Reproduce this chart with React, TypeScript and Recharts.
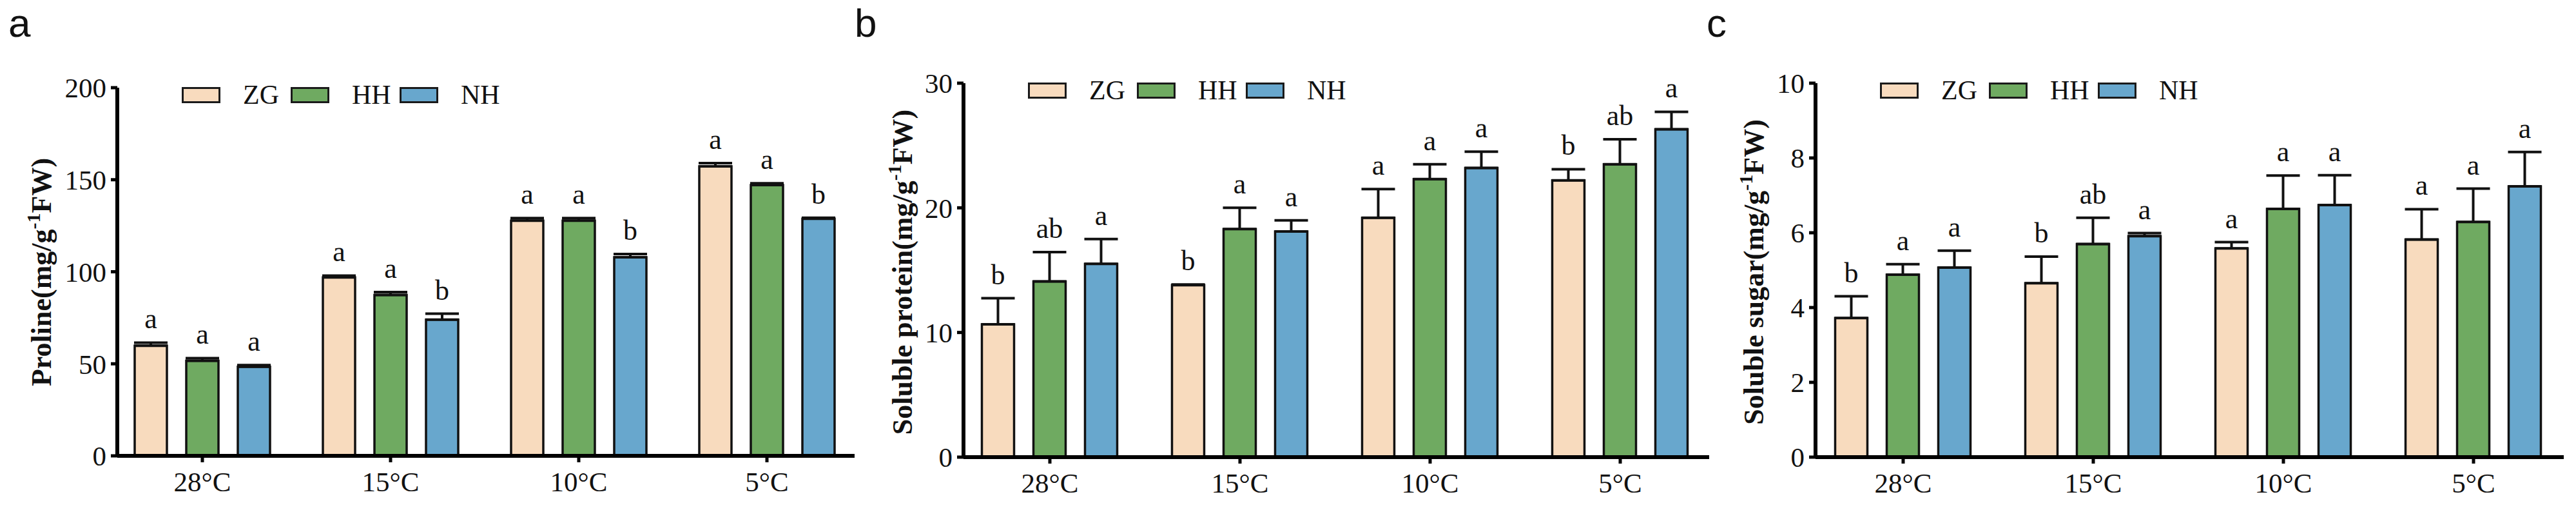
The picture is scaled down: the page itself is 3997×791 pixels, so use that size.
import React from 'react';
import { BarChart, Bar, XAxis, YAxis, ErrorBar, LabelList, Legend } from 'recharts';

const SERIF = "'Liberation Serif', 'Times New Roman', serif";
const SANS = "'Liberation Sans', Arial, sans-serif";

const categories = ['28°C', '15°C', '10°C', '5°C'];
const seriesNames = ['ZG', 'HH', 'NH'];
const seriesColors = ['#F8DBBE', '#6FAA61', '#68A7CD'];

// a: proline
const prolineZG = [59.8, 96.9, 127.8, 157.3];
const prolineZGErr = [1.7, 1.0, 1.4, 1.7];
const prolineZGSig = ['a', 'a', 'a', 'a'];
const prolineHH = [51.7, 87.4, 127.8, 147.1];
const prolineHHErr = [1.4, 1.6, 1.4, 1.0];
const prolineHHSig = ['a', 'a', 'a', 'a'];
const prolineNH = [48.4, 74.0, 107.9, 128.8];
const prolineNHErr = [0.9, 3.2, 1.7, 0.5];
const prolineNHSig = ['a', 'b', 'b', 'b'];

// b: soluble protein
const proteinZG = [10.65, 13.8, 19.2, 22.2];
const proteinZGErr = [2.1, 0.05, 2.3, 0.9];
const proteinZGSig = ['b', 'b', 'a', 'b'];
const proteinHH = [14.1, 18.3, 22.3, 23.5];
const proteinHHErr = [2.35, 1.7, 1.2, 2.0];
const proteinHHSig = ['ab', 'a', 'a', 'ab'];
const proteinNH = [15.5, 18.1, 23.2, 26.3];
const proteinNHErr = [2.0, 0.9, 1.3, 1.4];
const proteinNHSig = ['a', 'a', 'a', 'a'];

// c: soluble sugar
const sugarZG = [3.72, 4.65, 5.58, 5.82];
const sugarZGErr = [0.58, 0.71, 0.17, 0.81];
const sugarZGSig = ['b', 'b', 'a', 'a'];
const sugarHH = [4.88, 5.7, 6.64, 6.29];
const sugarHHErr = [0.28, 0.7, 0.89, 0.89];
const sugarHHSig = ['a', 'ab', 'a', 'a'];
const sugarNH = [5.07, 5.91, 6.74, 7.24];
const sugarNHErr = [0.45, 0.08, 0.8, 0.92];
const sugarNHSig = ['a', 'a', 'a', 'a'];

const prolineTicks = [0, 50, 100, 150, 200];
const proteinTicks = [0, 10, 20, 30];
const sugarTicks = [0, 2, 4, 6, 8, 10];

type Series = { values: number[]; errs: number[]; sigs: string[] };

const buildRows = (series: Series[]) =>
  categories.map((cat, i) => {
    const row: any = { idx: i, cat };
    series.forEach((s, k) => {
      const key = seriesNames[k];
      row[key] = s.values[i];
      row[key + 'Err'] = [0, s.errs[i]];
      row[key + 'Sig'] = s.sigs[i];
    });
    return row;
  });

const sigContent = (s: Series) => (props: any) => {
  const { x, y, width, height, value, index } = props;
  const v = s.values[index];
  const errPx = v ? (s.errs[index] / v) * Number(height) : 0;
  return (
    <text
      x={Number(x) + Number(width) / 2}
      y={Number(y) - errPx - 22}
      textAnchor="middle"
      fontFamily={SERIF}
      fontSize={44}
      fill="#111"
    >
      {value}
    </text>
  );
};

// keep legend in the series order, not alphabetical
const renderLegend = (props: any) => {
  const items = [...(props.payload || [])].sort(
    (a: any, b: any) => seriesNames.indexOf(a.value) - seriesNames.indexOf(b.value)
  );
  return (
    <div style={{ display: 'flex', fontFamily: SERIF, fontSize: 42, color: '#111' }}>
      {items.map((it: any) => (
        <div key={it.value} style={{ display: 'flex', alignItems: 'center', width: 169, lineHeight: 1 }}>
          <span
            style={{
              display: 'inline-block',
              width: 54,
              height: 19,
              background: it.color,
              border: '3px solid #1a1a1a',
            }}
          />
          <span style={{ marginLeft: 35 }}>{it.value}</span>
        </div>
      ))}
    </div>
  );
};

interface PanelProps {
  letter: string;
  title: string;
  series: Series[];
  ticks: number[];
  axisX: number;
  plotTop: number;
  plotBottom: number;
  firstTick: number;
  spacing: number;
  axisLen: number;
  labelGap: number;
}

const LEFT = 182;

const Panel: React.FC<PanelProps> = (p) => {
  const rows = buildRows(p.series);
  const width = LEFT + p.axisLen + 8;
  const xDomain = [-p.firstTick / p.spacing, (p.axisLen - p.firstTick) / p.spacing];
  const top = p.ticks[p.ticks.length - 1];

  return (
    <div style={{ position: 'absolute', left: p.axisX - LEFT, top: 0, width, height: 791 }}>
      <div
        style={{
          position: 'absolute',
          left: LEFT - 169,
          top: 5,
          fontFamily: SANS,
          fontSize: 62,
          lineHeight: 1,
          color: '#111',
        }}
      >
        {p.letter}
      </div>
      <BarChart
        width={width}
        height={791}
        data={rows}
        margin={{ top: p.plotTop, right: width - LEFT - p.axisLen, bottom: 0, left: 0 }}
        barSize={50}
        barGap={30}
      >
        <XAxis
          type="number"
          dataKey="idx"
          domain={xDomain}
          ticks={[0, 1, 2, 3]}
          interval={0}
          allowDataOverflow
          tickFormatter={(v: number) => categories[v]}
          height={791 - p.plotBottom}
          axisLine={{ stroke: '#000', strokeWidth: 6 }}
          tickLine={{ stroke: '#000', strokeWidth: 5 }}
          tickSize={10}
          tickMargin={14}
          tick={{ fill: '#111', fontSize: 43, fontFamily: SERIF }}
        />
        <YAxis
          type="number"
          domain={[0, top]}
          ticks={p.ticks}
          interval={0}
          allowDataOverflow
          width={LEFT}
          axisLine={{ stroke: '#000', strokeWidth: 6 }}
          tickLine={{ stroke: '#000', strokeWidth: 5 }}
          tickSize={10}
          tickMargin={7}
          tick={{ fill: '#111', fontSize: 43, fontFamily: SERIF }}
          label={{
            content: () => {
              const cx = LEFT - p.labelGap;
              const cy = 422;
              return (
                <text
                  x={cx}
                  y={cy}
                  transform={`rotate(-90 ${cx} ${cy})`}
                  textAnchor="middle"
                  fontFamily={SERIF}
                  fontWeight="bold"
                  fontSize={44}
                  fill="#111"
                >
                  {p.title}(mg/g
                  <tspan dy={-17} fontSize={30}>-1</tspan>
                  <tspan dy={17}>FW)</tspan>
                </text>
              );
            },
          }}
        />
        <Legend
          layout="horizontal"
          verticalAlign="middle"
          align="center"
          wrapperStyle={{ left: LEFT + 100, top: p.plotTop - 10, width: 560, height: 30 }}
          content={renderLegend}
        />
        {seriesNames.map((name, k) => (
          <Bar
            key={name}
            dataKey={name}
            name={name}
            fill={seriesColors[k]}
            stroke="#111"
            strokeWidth={3.5}
            isAnimationActive={false}
          >
            <ErrorBar dataKey={name + 'Err'} width={26} stroke="#111" strokeWidth={4} direction="y" />
            <LabelList dataKey={name + 'Sig'} content={sigContent(p.series[k])} />
          </Bar>
        ))}
      </BarChart>
    </div>
  );
};

export default function App() {
  return (
    <div style={{ position: 'absolute', left: 0, top: 0, width: 3997, height: 791, background: '#fff' }}>
      <Panel
        letter="a"
        title="Proline"
        series={[
          { values: prolineZG, errs: prolineZGErr, sigs: prolineZGSig },
          { values: prolineHH, errs: prolineHHErr, sigs: prolineHHSig },
          { values: prolineNH, errs: prolineNHErr, sigs: prolineNHSig },
        ]}
        ticks={prolineTicks}
        axisX={182}
        plotTop={136}
        plotBottom={707}
        firstTick={132}
        spacing={292}
        axisLen={1144}
        labelGap={103}
      />
      <Panel
        letter="b"
        title="Soluble protein"
        series={[
          { values: proteinZG, errs: proteinZGErr, sigs: proteinZGSig },
          { values: proteinHH, errs: proteinHHErr, sigs: proteinHHSig },
          { values: proteinNH, errs: proteinNHErr, sigs: proteinNHSig },
        ]}
        ticks={proteinTicks}
        axisX={1495}
        plotTop={129}
        plotBottom={709}
        firstTick={134}
        spacing={295}
        axisLen={1157}
        labelGap={80}
      />
      <Panel
        letter="c"
        title="Soluble sugar"
        series={[
          { values: sugarZG, errs: sugarZGErr, sigs: sugarZGSig },
          { values: sugarHH, errs: sugarHHErr, sigs: sugarHHSig },
          { values: sugarNH, errs: sugarNHErr, sigs: sugarNHSig },
        ]}
        ticks={sugarTicks}
        axisX={2817}
        plotTop={129}
        plotBottom={709}
        firstTick={136}
        spacing={295}
        axisLen={1161}
        labelGap={81}
      />
    </div>
  );
}
